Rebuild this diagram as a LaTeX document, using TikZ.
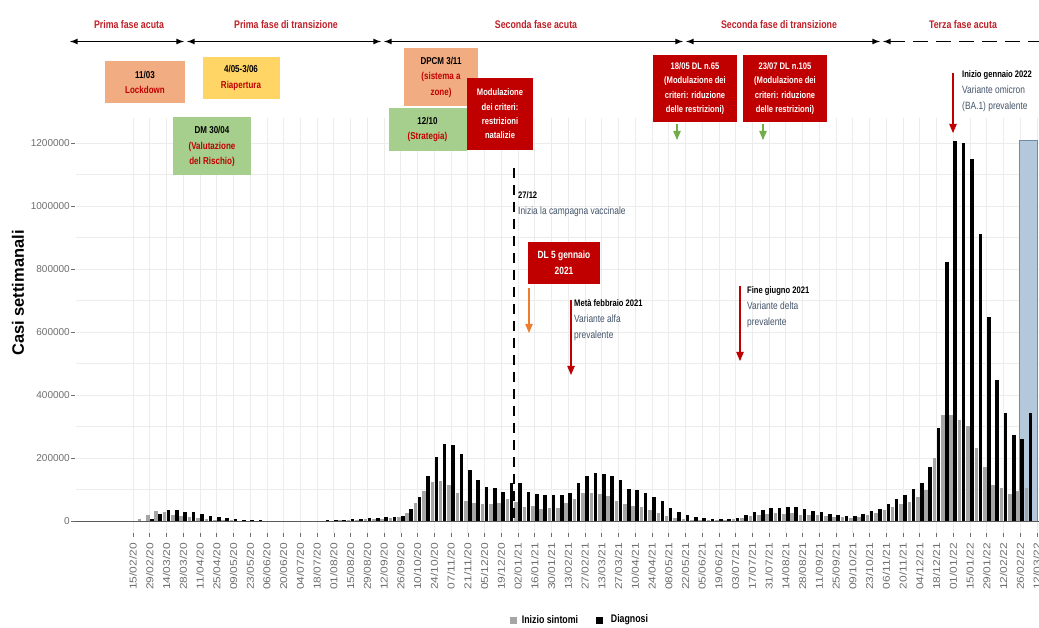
\documentclass[tikz,border=0pt]{standalone}
\usepackage{fontspec}
\setmainfont{Liberation Sans}
\newfontfamily\narrowfont[FakeStretch=0.8]{Liberation Sans}
\newfontfamily\widefont[FakeStretch=1.2]{Liberation Sans}
\usetikzlibrary{arrows,positioning}
\definecolor{phasered}{RGB}{192,32,40}
\definecolor{boxsalmon}{RGB}{241,172,130}
\definecolor{boxyellow}{RGB}{255,214,102}
\definecolor{boxgreen}{RGB}{166,206,140}
\definecolor{boxred}{RGB}{192,0,0}
\definecolor{notegrey}{RGB}{68,84,106}
\definecolor{arroworange}{RGB}{237,125,49}
\definecolor{arrowgreen}{RGB}{112,173,71}
\definecolor{barsgrey}{RGB}{165,165,165}
\definecolor{gridgrey}{RGB}{236,236,236}
\definecolor{tickgrey}{RGB}{110,110,110}
\definecolor{omicronfill}{RGB}{180,200,220}
\definecolor{omicronedge}{RGB}{110,140,170}
\newcommand{\notehead}[1]{{\bfseries\fontsize{9.5}{16}\selectfont\color{black}#1}}

\begin{document}
\begin{tikzpicture}[x=1pt,y=-1pt]
\tikzstyle{gridline}=[draw=gridgrey, line width=0.8pt]
\tikzstyle{tickline}=[draw=tickgrey, line width=0.6pt]
\tikzstyle{sintbar}=[fill=barsgrey]
\tikzstyle{diagbar}=[fill=black]
\tikzstyle{ticklabel}=[inner sep=0, text=tickgrey, font=\fontsize{10}{12}\selectfont]
\tikzstyle{datelabel}=[inner sep=0, text=tickgrey, font=\widefont\fontsize{10}{12}\selectfont]
\tikzstyle{phaselabel}=[inner sep=0, text=phasered, font=\narrowfont\bfseries\fontsize{11}{13}\selectfont]
\tikzstyle{phasearrow}=[latex-latex, line width=1.6pt]
\tikzstyle{notebox}=[inner sep=0, align=center, font=\narrowfont\bfseries\fontsize{10}{15.5}\selectfont]
\tikzstyle{redbox}=[notebox, fill=boxred, text=white, font=\narrowfont\bfseries\fontsize{9.5}{14.3}\selectfont]
\tikzstyle{notetext}=[inner sep=0, align=left, anchor=north west, text=notegrey, font=\narrowfont\fontsize{10.5}{16}\selectfont]
\tikzstyle{notearrow}=[-triangle 45, line width=1.1pt]
\tikzstyle{vaccline}=[line width=2.6pt, dash pattern=on 10pt off 7pt]
\tikzstyle{legendtext}=[inner sep=0, font=\narrowfont\bfseries\fontsize{11}{13}\selectfont]
\useasboundingbox (0,0) rectangle (1039,628);
\clip (0,0) rectangle (1039,628);
\fill[white] (0,0) rectangle (1039,628);
\foreach \k in {0,...,54}
  \draw[gridline] ({133+16.74*\k},118) -- ({133+16.74*\k},533);
\foreach \v in {1,...,12}
  \draw[gridline] (76,{521-31.5*\v}) -- (1039,{521-31.5*\v});
\draw[fill=omicronfill, draw=omicronedge, line width=1pt] (1019,141) rectangle (1037,521);
\foreach \v [count=\w from 0] in {0,6,19,33,27,19,16,12,9,6,4,3,2,1.5,1,1,1,1,1,1,1,1,1,1,1.5,2,3,4,5,6,7,9,14,26,56,95,125,128,114,88,64,58,54,54,58,69,61,43,48,39,42,42,57,71,89,89,87,78,62,53,47,44,36,25,15,10,7,4,4,3,3,4,6,10,15,20,23,25,23,25,18,18,18,15,13,13,11,13,18,25,34,44,53,60,76,99,201,338,338,320,301,232,171,113,105,87,95,106}
  \fill[sintbar] ({133+8.37*\w-3.8},521) rectangle ({133+8.37*\w-0.2},{521-0.315*\v});
\foreach \v [count=\w from 0] in {0,1,6,21,35,35,30,28,21,17,12,8,5,3,2,2,1.5,1.5,1.5,1.5,1.5,1.5,1.5,2,2,3,5,7,8,9,12,12,16,37,75,143,202,243,241,213,162,130,107,104,91,120,122,93,85,82,82,82,90,122,142,153,148,143,129,101,97,90,76,63,42,29,20,13,9,6,5,6,10,18,29,36,41,41,43,44,38,31,28,22,19,17,17,23,31,37,53,70,83,103,122,171,295,821,1206,1199,1148,910,649,448,344,274,261,344}
  \fill[diagbar] ({133+8.37*\w+0.2},521) rectangle ({133+8.37*\w+3.8},{521-0.315*\v});
\draw[draw=black!65, line width=1pt] (72,521) -- (1039,521);
\foreach \t [count=\i from 0] in {0,200000,400000,600000,800000,1000000,1200000} {
  \node[ticklabel, anchor=east] (ytick\i) at (70,{521-63*\i}) {\t};
  \draw[tickline] (71,{521-63*\i}) -- (75,{521-63*\i});
}
\foreach \d/\m/\y [count=\k from 0] in {15/02/20,29/02/20,14/03/20,28/03/20,11/04/20,25/04/20,09/05/20,23/05/20,06/06/20,20/06/20,04/07/20,18/07/20,01/08/20,15/08/20,29/08/20,12/09/20,26/09/20,10/10/20,24/10/20,07/11/20,21/11/20,05/12/20,19/12/20,02/01/21,16/01/21,30/01/21,13/02/21,27/02/21,13/03/21,27/03/21,10/04/21,24/04/21,08/05/21,22/05/21,05/06/21,19/06/21,03/07/21,17/07/21,31/07/21,14/08/21,28/08/21,11/09/21,25/09/21,09/10/21,23/10/21,06/11/21,20/11/21,04/12/21,18/12/21,01/01/22,15/01/22,29/01/22,12/02/22,26/02/22,12/03/22} {
  \draw[tickline] ({133+16.74*(\k-1)+16.74},533) -- ({133+16.74*(\k-1)+16.74},537);
  \node[datelabel, rotate=90, anchor=east] (date\k) at ({133+16.74*\k},543) {\d/\m/\y};
}
\node[rotate=90, font=\bfseries\fontsize{16.5}{18}\selectfont] (ylabel) at (18,293) {Casi settimanali};
\coordinate (pa0) at (70,41.5);
\coordinate (pa1) at (184,41.5);
\coordinate (pb0) at (187,41.5);
\coordinate (pb1) at (381,41.5);
\coordinate (pc0) at (384,41.5);
\coordinate (pc1) at (683,41.5);
\coordinate (pd0) at (686,41.5);
\coordinate (pd1) at (880,41.5);
\coordinate (pe0) at (883,41.5);
\coordinate (pe1) at (1050,41.5);
\draw[phasearrow] (pa0) -- (pa1);
\draw[phasearrow] (pb0) -- (pb1);
\draw[phasearrow] (pc0) -- (pc1);
\draw[phasearrow] (pd0) -- (pd1);
\draw[latex-, line width=1.6pt, dash pattern=on 15pt off 8pt] (pe0) -- (pe1);
\node[phaselabel] (primaacuta) at (129,25) {Prima fase acuta};
\node[phaselabel] (primatrans) at (286,25) {Prima fase di transizione};
\node[phaselabel] (secondaacuta) at (536,25) {Seconda fase acuta};
\node[phaselabel] (secondatrans) at (779,25) {Seconda fase di transizione};
\node[phaselabel] (terzaacuta) at (963,25) {Terza fase acuta};
\node[notebox, fill=boxsalmon, minimum width=80, minimum height=42] (lockdown) at (145,82.5) {11/03\\\textcolor{boxred}{Lockdown}};
\node[notebox, fill=boxyellow, minimum width=77, minimum height=42] (riapertura) at (241,78) {4/05-3/06\\\textcolor{boxred}{Riapertura}};
\node[notebox, fill=boxgreen, minimum width=78, minimum height=58] (dmrischio) at (212,146.5) {DM 30/04\\\textcolor{boxred}{(Valutazione}\\\textcolor{boxred}{del Rischio)}};
\node[notebox, fill=boxsalmon, minimum width=74, minimum height=58] (dpcmzone) at (441,77) {DPCM 3/11\\\textcolor{boxred}{(sistema a}\\\textcolor{boxred}{zone)}};
\node[notebox, fill=boxgreen, minimum width=78, minimum height=43] (strategia) at (427.5,129.5) {12/10\\\textcolor{boxred}{(Strategia)}};
\node[redbox, minimum width=66, minimum height=72] (natalizie) at (500,114) {Modulazione\\dei criteri:\\restrizioni\\natalizie};
\node[redbox, minimum width=84, minimum height=67] (dlmaggio) at (695,88.5) {18/05 DL n.65\\(Modulazione dei\\criteri: riduzione\\delle restrizioni)};
\node[redbox, minimum width=84, minimum height=67] (dlluglio) at (785,88.5) {23/07 DL n.105\\(Modulazione dei\\criteri: riduzione\\delle restrizioni)};
\node[redbox, minimum width=72, minimum height=42, font=\narrowfont\bfseries\fontsize{10.5}{16}\selectfont] (dlgennaio) at (564,263) {DL 5 gennaio\\2021};
\coordinate (vacctop) at (514,168);
\coordinate (vaccbot) at (514,521);
\draw[vaccline] (vacctop) -- (vaccbot);
\node[notetext] (vaccinale) at (518,191) {\notehead{27/12}\\Inizia la campagna vaccinale};
\node[notetext] (alfa) at (574,299) {\notehead{Metà febbraio 2021}\\Variante alfa\\prevalente};
\node[notetext] (delta) at (747,286) {\notehead{Fine giugno 2021}\\Variante delta\\prevalente};
\node[notetext] (omicron) at (962,70) {\notehead{Inizio gennaio 2022}\\Variante omicron\\(BA.1) prevalente};
\coordinate (alfa0) at (571,300);
\coordinate (alfa1) at (571,375);
\coordinate (delta0) at (740,286);
\coordinate (delta1) at (740,361);
\coordinate (omicron0) at (953,73);
\coordinate (omicron1) at (953,133);
\coordinate (gennaio0) at (529,288);
\coordinate (gennaio1) at (529,333);
\coordinate (maggio0) at (677,124);
\coordinate (maggio1) at (677,140);
\coordinate (luglio0) at (763,124);
\coordinate (luglio1) at (763,140);
\draw[notearrow, draw=boxred] (alfa0) -- (alfa1);
\draw[notearrow, draw=boxred] (delta0) -- (delta1);
\draw[notearrow, draw=boxred] (omicron0) -- (omicron1);
\draw[notearrow, draw=arroworange] (gennaio0) -- (gennaio1);
\draw[notearrow, draw=arrowgreen] (maggio0) -- (maggio1);
\draw[notearrow, draw=arrowgreen] (luglio0) -- (luglio1);
\node[fill=barsgrey, minimum size=7, inner sep=0] (keysintomi) at (513,620) {};
\node[legendtext, right=5pt of keysintomi] (labsintomi) {Inizio sintomi};
\node[fill=black, minimum size=7, inner sep=0] (keydiagnosi) at (599,620) {};
\node[legendtext, right=8pt of keydiagnosi] (labdiagnosi) {Diagnosi};
\end{tikzpicture}
\end{document}
